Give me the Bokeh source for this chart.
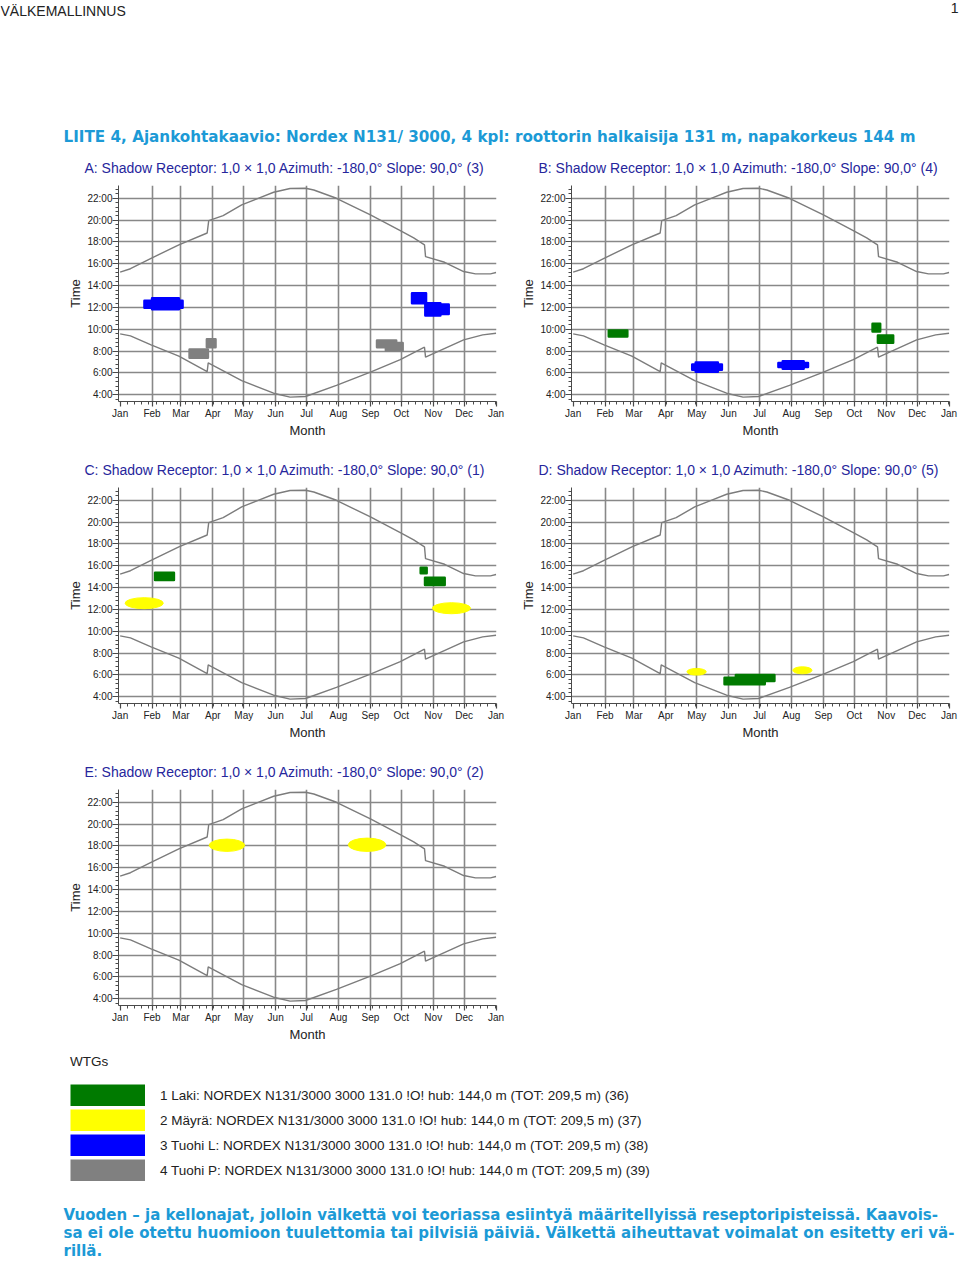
import numpy as np
from bokeh.plotting import figure
from bokeh.models import (Range1d, FixedTicker, Label, Legend, LegendItem,
                          CustomJSTickFormatter, Plot)
from bokeh.layouts import column, row
from bokeh.embed import file_html
from bokeh.resources import INLINE

# ---------------- data ----------------
MONTH_STARTS = [0, 31, 59, 90, 120, 151, 181, 212, 243, 273, 304, 334, 365]
MONTH_LABELS = ["Jan", "Feb", "Mar", "Apr", "May", "Jun", "Jul", "Aug",
                "Sep", "Oct", "Nov", "Dec", "Jan"]
HOUR_TICKS = [4, 6, 8, 10, 12, 14, 16, 18, 20, 22]

# sunset / sunrise curves (day of year, hour)
SUNSET_DAY = [0, 10, 30, 57, 84.5, 86.0, 100, 118, 134, 149, 165, 180, 188,
              210, 243, 272, 285, 295.5, 296.5, 315, 333.5, 345, 359.5, 365]
SUNSET_HOUR = [15.23, 15.55, 16.5, 17.73, 18.82, 19.96, 20.41, 21.39, 22.0,
               22.55, 22.9, 22.92, 22.76, 22.0, 20.47, 19.04, 18.37, 17.73,
               16.66, 16.14, 15.29, 15.08, 15.08, 15.2]
SUNRISE_DAY = [0, 10, 30, 57, 84.5, 85.5, 118, 149, 165, 180, 210, 243, 272,
               295.5, 296.5, 333.5, 352, 365]
SUNRISE_HOUR = [9.58, 9.4, 8.58, 7.54, 6.12, 6.93, 5.31, 4.15, 3.79, 3.85,
                4.86, 6.08, 7.23, 8.36, 7.45, 9.03, 9.49, 9.64]

WTG_COLORS = ["#007a00", "#ffff00", "#0000ff", "#808080"]
WTG_LABELS = [
    "1 Laki: NORDEX N131/3000 3000 131.0 !O! hub: 144,0 m (TOT: 209,5 m) (36)",
    "2 Mäyrä: NORDEX N131/3000 3000 131.0 !O! hub: 144,0 m (TOT: 209,5 m) (37)",
    "3 Tuohi L: NORDEX N131/3000 3000 131.0 !O! hub: 144,0 m (TOT: 209,5 m) (38)",
    "4 Tuohi P: NORDEX N131/3000 3000 131.0 !O! hub: 144,0 m (TOT: 209,5 m) (39)",
]

# shadow periods per receptor: WTG number, first/last day, start/end hour
A_WTG = [3, 3, 3, 3, 3, 4, 4, 4, 4]
A_DAY0 = [31.0, 23.6, 283.4, 296.3, 310.2, 67.4, 84.2, 249.4, 258.0]
A_DAY1 = [57.0, 60.6, 297.0, 310.9, 319.0, 85.2, 92.6, 268.0, 274.3]
A_HOUR0 = [11.84, 11.97, 12.39, 11.26, 11.41, 7.39, 8.36, 8.36, 8.06]
A_HOUR1 = [12.85, 12.62, 13.31, 12.39, 12.27, 8.15, 9.10, 8.97, 8.75]

B_WTG = [1, 3, 3, 3, 3, 1, 1]
B_DAY0 = [34.6, 119.0, 115.6, 203.5, 199.3, 290.7, 295.9]
B_DAY1 = [52.6, 140.5, 144.4, 223.8, 228.0, 298.1, 310.7]
B_HOUR0 = [9.34, 6.11, 6.30, 6.38, 6.55, 9.80, 8.76]
B_HOUR1 = [9.89, 6.96, 6.78, 7.08, 6.92, 10.50, 9.43]

C_WTG = [1, 1, 1, 2, 2]
C_DAY0 = [33.9, 291.8, 296.0, 4.8, 303.1]
C_DAY1 = [52.2, 297.6, 315.1, 41.9, 340.2]
C_HOUR0 = [14.70, 15.31, 14.24, 12.07, 11.61]
C_HOUR1 = [15.37, 15.83, 14.91, 13.08, 12.62]

D_WTG = [2, 1, 1, 2]
D_DAY0 = [110.5, 147.0, 158.0, 213.2]
D_DAY1 = [129.2, 186.0, 195.4, 231.9]
D_HOUR0 = [5.99, 5.16, 5.45, 6.11]
D_HOUR1 = [6.60, 5.75, 5.99, 6.75]

E_WTG = [2, 2]
E_DAY0 = [86.4, 221.5]
E_DAY1 = [120.9, 258.0]
E_HOUR0 = [17.50, 17.50]
E_HOUR1 = [18.63, 18.72]

PANEL_TITLE = "{}: Shadow  Receptor: 1,0 × 1,0  Azimuth: -180,0°  Slope: 90,0° ({})"

HEADER_LEFT = "VÄLKEMALLINNUS"
HEADER_RIGHT = "1"
PAGE_TITLE = ("LIITE 4, Ajankohtakaavio: Nordex N131/ 3000, 4 kpl: roottorin "
              "halkaisija 131 m, napakorkeus 144 m")
FOOTER_LINES = [
    "Vuoden – ja kellonajat, jolloin välkettä voi teoriassa esiintyä määritellyissä reseptoripisteissä. Kaavois-",
    "sa ei ole otettu huomioon tuulettomia tai pilvisiä päiviä. Välkettä aiheuttavat voimalat on esitetty eri vä-",
    "rillä.",
]

# ---------------- styling ----------------
TEAL = "#1c9ad6"
NAVY = "#26269c"
GRID = "#888888"
AXIS = "#4a4a4a"
FONT = "Liberation Sans"
HAS_FRAME_ALIGN = "frame_align" in Plot.properties()

FRAME_H = 216
PX_PER_HOUR = 10.92
Y_MIN = 3.39
Y_MAX = Y_MIN + FRAME_H / PX_PER_HOUR
X_MIN, X_MAX = -1.6, 365.4
WEEK_TICKS = list(range(0, 366, 7))
HOUR_MINOR = [round(3.6 + 0.4 * i, 2) for i in range(50) if 3.6 + 0.4 * i < 23.3]


def text_fig(width, height):
    f = figure(width=width, height=height, x_range=Range1d(0, width),
               y_range=Range1d(height, 0), output_backend="svg",
               toolbar_location=None, min_border=0, title=None,
               x_axis_location=None, y_axis_location=None)
    f.grid.visible = False
    f.outline_line_color = None
    if HAS_FRAME_ALIGN:
        f.frame_align = False
    return f


def make_panel(wtg, d0, d1, h0, h1, width, bl, br, height):
    p = figure(width=width, height=height, title=None,
               x_range=Range1d(X_MIN, X_MAX), y_range=Range1d(Y_MIN, Y_MAX),
               output_backend="svg", toolbar_location=None,
               min_border_left=bl, min_border_right=br,
               min_border_top=0, min_border_bottom=height - FRAME_H)
    p.outline_line_color = None
    if HAS_FRAME_ALIGN:
        p.frame_align = False

    p.xgrid.ticker = FixedTicker(ticks=MONTH_STARTS[1:-1])
    p.ygrid.ticker = FixedTicker(ticks=HOUR_TICKS)
    for g in (p.xgrid, p.ygrid):
        g.grid_line_color = GRID
        g.grid_line_width = 1.6

    xa = p.xaxis[0]
    xa.ticker = FixedTicker(ticks=MONTH_STARTS, minor_ticks=WEEK_TICKS)
    xa.major_label_overrides = {d: m for d, m in zip(MONTH_STARTS, MONTH_LABELS)}
    xa.axis_label = "Month"
    xa.major_tick_in = 0
    xa.major_tick_out = 5
    xa.minor_tick_in = 0
    xa.minor_tick_out = 3
    xa.major_label_standoff = 1
    xa.axis_label_standoff = 1

    ya = p.yaxis[0]
    ya.ticker = FixedTicker(ticks=HOUR_TICKS, minor_ticks=HOUR_MINOR)
    ya.formatter = CustomJSTickFormatter(code="return tick + ':00'")
    ya.axis_label = "Time"
    ya.major_tick_in = 0
    ya.major_tick_out = 6
    ya.minor_tick_in = 0
    ya.minor_tick_out = 3
    ya.major_label_standoff = 0
    ya.axis_label_standoff = 1

    for ax in (xa, ya):
        ax.axis_line_color = AXIS
        ax.major_tick_line_color = AXIS
        ax.minor_tick_line_color = AXIS
        ax.major_tick_line_width = 1.2
        ax.major_label_text_font = FONT
        ax.major_label_text_font_size = "10px"
        ax.major_label_text_color = "#222222"
        ax.axis_label_text_font = FONT
        ax.axis_label_text_font_size = "13px"
        ax.axis_label_text_font_style = "normal"
        ax.axis_label_text_color = "#222222"

    p.line(SUNSET_DAY, SUNSET_HOUR, line_color="#7c7c7c", line_width=1.4)
    p.line(SUNRISE_DAY, SUNRISE_HOUR, line_color="#7c7c7c", line_width=1.4)

    for w, a, b, lo, hi in zip(wtg, d0, d1, h0, h1):
        c = WTG_COLORS[w - 1]
        if w == 2:
            p.ellipse(x=[(a + b) / 2], y=[(lo + hi) / 2], width=[b - a],
                      height=[hi - lo], fill_color=c, line_color=c, line_width=1)
        else:
            p.quad(left=[a], right=[b], bottom=[lo], top=[hi], fill_color=c,
                   line_color=c, line_width=2.5, line_join="round")
    return p


def add_title(f, x, y, letter, receptor):
    f.add_layout(Label(x=x, y=y, text=PANEL_TITLE.format(letter, receptor),
                       text_font=FONT, text_font_size="14px",
                       text_color=NAVY, text_baseline="middle"))


# ---------------- header (page header, title, row-1 panel titles) ----------------
head = text_fig(960, 185)
head.add_layout(Label(x=0, y=2, text=HEADER_LEFT, text_font=FONT, text_font_size="14px",
                      text_color="#222222", text_baseline="top"))
head.add_layout(Label(x=958, y=2, text=HEADER_RIGHT, text_font=FONT, text_font_size="14px",
                      text_color="#222222", text_baseline="top", text_align="right"))
head.add_layout(Label(x=63, y=136, text=PAGE_TITLE, text_font="DejaVu Sans",
                      text_font_style="bold", text_font_size="15.2px",
                      text_color=TEAL, text_baseline="middle"))
add_title(head, 84, 167, "A", 3)
add_title(head, 538, 167, "B", 4)

pa = make_panel(A_WTG, A_DAY0, A_DAY1, A_HOUR0, A_HOUR1, 510, 118, 14, 275)
pb = make_panel(B_WTG, B_DAY0, B_DAY1, B_HOUR0, B_HOUR1, 450, 61, 11, 275)

t2 = text_fig(960, 27)
add_title(t2, 84, 9, "C", 1)
add_title(t2, 538, 9, "D", 5)

pc = make_panel(C_WTG, C_DAY0, C_DAY1, C_HOUR0, C_HOUR1, 510, 118, 14, 275)
pd_ = make_panel(D_WTG, D_DAY0, D_DAY1, D_HOUR0, D_HOUR1, 450, 61, 11, 275)

t3 = text_fig(960, 27)
add_title(t3, 84, 9, "E", 2)

pe = make_panel(E_WTG, E_DAY0, E_DAY1, E_HOUR0, E_HOUR1, 510, 118, 14, 256)

# ---------------- legend + footer ----------------
bot = text_fig(960, 215)
items = []
for c, lab in zip(WTG_COLORS, WTG_LABELS):
    r = bot.line(x=[np.nan, np.nan], y=[np.nan, np.nan], line_color=c,
                 line_width=22, line_cap="butt")
    items.append(LegendItem(label=lab, renderers=[r]))
leg = Legend(items=items, location=(70, 79), title="WTGs",
             glyph_width=75, glyph_height=22, spacing=3, label_standoff=15,
             padding=0, margin=0, border_line_color=None,
             background_fill_alpha=0,
             label_text_font=FONT, label_text_font_size="13.5px",
             label_text_color="#222222",
             title_text_font=FONT, title_text_font_size="13.5px",
             title_text_font_style="normal", title_text_color="#222222",
             title_standoff=15)
bot.add_layout(leg)
for txt, yy in zip(FOOTER_LINES, [169, 187, 205]):
    bot.add_layout(Label(x=63, y=yy, text=txt, text_font="DejaVu Sans",
                         text_font_style="bold", text_font_size="15px",
                         text_color=TEAL, text_baseline="middle"))

layout = column(head, row(pa, pb), t2, row(pc, pd_), t3, row(pe), bot)
open("out.html", "w").write(file_html(layout, INLINE))
